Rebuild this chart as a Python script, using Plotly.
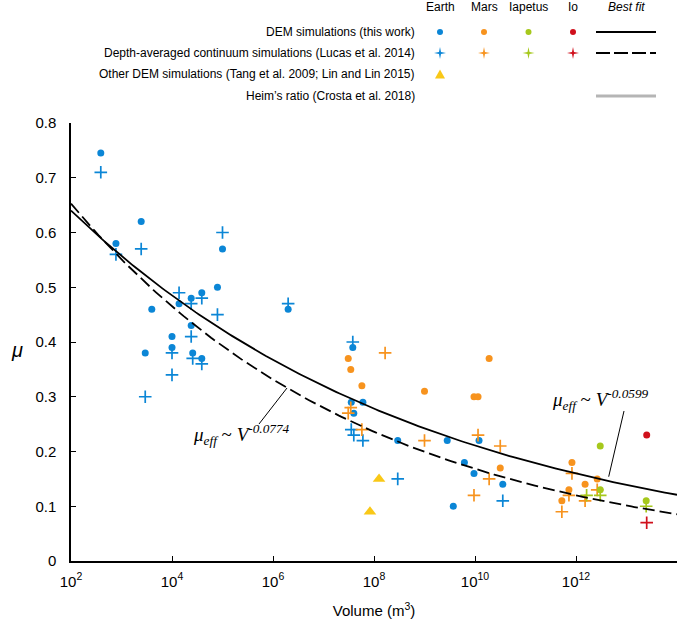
import numpy as np
import plotly.graph_objects as go

# volumes given as log10(V), friction coefficient mu
earth_dem_logv = [2.59, 2.89, 3.39, 3.60, 3.47, 4.0, 4.0, 4.14, 4.38, 4.38, 4.41, 4.59, 4.59, 4.90, 5.0, 6.30,
                  7.58, 7.55, 7.78, 7.60, 8.47, 9.45, 10.08, 9.79, 9.98, 10.55, 9.57]
earth_dem_mu = [0.745, 0.58, 0.62, 0.46, 0.38, 0.41, 0.39, 0.47, 0.48, 0.43, 0.38, 0.49, 0.37, 0.50, 0.57, 0.46,
                0.39, 0.29, 0.29, 0.27, 0.22, 0.22, 0.22, 0.18, 0.16, 0.14, 0.10]

earth_cont_logv = [2.59, 2.89, 3.39, 3.47, 4.0, 4.0, 4.14, 4.38, 4.38, 4.41, 4.59, 4.59, 4.90, 5.0, 6.30,
                   7.58, 7.55, 7.60, 7.78, 8.47, 10.55]
earth_cont_mu = [0.71, 0.56, 0.57, 0.30, 0.34, 0.38, 0.49, 0.47, 0.41, 0.37, 0.48, 0.36, 0.45, 0.60, 0.47,
                 0.40, 0.24, 0.23, 0.22, 0.15, 0.11]

mars_dem_logv = [7.49, 7.54, 7.76, 9.0, 9.98, 10.06, 10.28, 10.50, 11.92, 12.42, 12.18, 11.86, 11.72]
mars_dem_mu = [0.37, 0.35, 0.32, 0.31, 0.30, 0.30, 0.37, 0.17, 0.18, 0.15, 0.14, 0.13, 0.11]

mars_cont_logv = [8.22, 7.54, 7.49, 7.76, 9.0, 10.06, 10.50, 10.28, 9.98, 11.92, 12.42, 11.86, 12.18, 11.72]
mars_cont_mu = [0.38, 0.28, 0.27, 0.24, 0.22, 0.23, 0.21, 0.15, 0.12, 0.16, 0.13, 0.12, 0.11, 0.09]

iapetus_dem_logv = [12.48, 12.48, 13.39]
iapetus_dem_mu = [0.21, 0.13, 0.11]
iapetus_cont_logv = [12.21, 12.48, 13.39]
iapetus_cont_mu = [0.12, 0.12, 0.10]

io_dem_logv = [13.40]
io_dem_mu = [0.23]
io_cont_logv = [13.40]
io_cont_mu = [0.07]

other_dem_logv = [8.10, 7.92]
other_dem_mu = [0.15, 0.09]

# best fit curves mu = c * V^k (as drawn)
fit_dem = (0.845, -0.0603)
fit_cont = (0.916, -0.0736)
fit_logv = np.linspace(2, 14, 200)

colors = {'Earth': '#0b86d6', 'Mars': '#f7931e', 'Iapetus': '#a6c81c', 'Io': '#d0101c'}
tri_color = '#f9c817'

fig = go.Figure()

groups = [
    ('Earth', earth_dem_logv, earth_dem_mu, earth_cont_logv, earth_cont_mu),
    ('Mars', mars_dem_logv, mars_dem_mu, mars_cont_logv, mars_cont_mu),
    ('Iapetus', iapetus_dem_logv, iapetus_dem_mu, iapetus_cont_logv, iapetus_cont_mu),
    ('Io', io_dem_logv, io_dem_mu, io_cont_logv, io_cont_mu),
]

for name, dlv, dmu, clv, cmu in groups:
    fig.add_trace(go.Scatter(x=10 ** np.array(clv), y=cmu, mode='markers', name=name + ' continuum',
                             marker=dict(symbol='cross-thin', size=9, color=colors[name],
                                         line=dict(width=1.7, color=colors[name]))))
    fig.add_trace(go.Scatter(x=10 ** np.array(dlv), y=dmu, mode='markers', name=name + ' DEM',
                             marker=dict(symbol='circle', size=7, color=colors[name], line_width=0)))

fig.add_trace(go.Scatter(x=10 ** np.array(other_dem_logv), y=other_dem_mu, mode='markers', name='Other DEM',
                         marker=dict(symbol='triangle-up', size=11, color=tri_color, line_width=0)))

fig.add_trace(go.Scatter(x=10 ** fit_logv, y=fit_dem[0] * (10 ** fit_logv) ** fit_dem[1], mode='lines',
                         line=dict(color='black', width=1.8), name='fit DEM'))
fig.add_trace(go.Scatter(x=10 ** fit_logv, y=fit_cont[0] * (10 ** fit_logv) ** fit_cont[1], mode='lines',
                         line=dict(color='black', width=1.8, dash='12px,5px'), name='fit continuum'))

# plot area in pixels: x 71..677, y 123..561
def px(x):
    return (x - 71) / 606


def py(y):
    return (561 - y) / 438


shapes = []
annotations = []

# legend table
headers = [('Earth', 440), ('Mars', 484), ('Iapetus', 528.5), ('Io', 573)]
for h, hx in headers:
    annotations.append(dict(text=h, x=px(hx), y=py(7), xref='paper', yref='paper', showarrow=False,
                            xanchor='center', yanchor='middle', font=dict(size=12, color='black')))
annotations.append(dict(text='<i>Best fit</i>', x=px(626), y=py(7), xref='paper', yref='paper', showarrow=False,
                        xanchor='center', yanchor='middle', font=dict(size=12, color='black')))

rows = ['DEM simulations (this work)',
        'Depth-averaged continuum simulations (Lucas et al. 2014)',
        'Other DEM simulations (Tang et al. 2009; Lin and Lin 2015)',
        'Heim\u2019s ratio (Crosta et al. 2018)']
row_y = [32, 53, 74.5, 96]
for r, ry in zip(rows, row_y):
    annotations.append(dict(text=r, x=px(417), y=py(ry), xref='paper', yref='paper', showarrow=False,
                            xanchor='right', yanchor='middle', font=dict(size=12, color='black')))

star_path = 'M0,6 L1,1 L6,0 L1,-1 L0,-6 L-1,-1 L-6,0 L-1,1 Z'
for (name, hx) in headers:
    c = colors[name]
    shapes.append(dict(type='circle', xref='paper', yref='paper', xsizemode='pixel', ysizemode='pixel',
                       xanchor=px(hx), yanchor=py(row_y[0]), x0=-3, x1=3, y0=-3, y1=3,
                       fillcolor=c, line_width=0))
    shapes.append(dict(type='path', xref='paper', yref='paper', xsizemode='pixel', ysizemode='pixel',
                       xanchor=px(hx), yanchor=py(row_y[1]), path=star_path, fillcolor=c, line_width=0))
shapes.append(dict(type='path', xref='paper', yref='paper', xsizemode='pixel', ysizemode='pixel',
                   xanchor=px(440), yanchor=py(row_y[2]), path='M-5,-4 L5,-4 L0,5 Z',
                   fillcolor=tri_color, line_width=0))
shapes.append(dict(type='line', xref='paper', yref='paper', x0=px(596), x1=px(656), y0=py(row_y[0]), y1=py(row_y[0]),
                   line=dict(color='black', width=2)))
shapes.append(dict(type='line', xref='paper', yref='paper', x0=px(596), x1=px(656), y0=py(row_y[1]), y1=py(row_y[1]),
                   line=dict(color='black', width=2, dash='14px,4px')))
shapes.append(dict(type='line', xref='paper', yref='paper', x0=px(596), x1=px(656), y0=py(row_y[3]), y1=py(row_y[3]),
                   line=dict(color='#b5b5b5', width=3)))

# fit labels
serif = dict(family='Liberation Serif', size=19, color='black')
annotations.append(dict(text='<i>\u03bc</i><sub><i>eff</i></sub> ~ <i>V</i><sup><i>-0.0774</i></sup>',
                        x=px(191), y=py(434), xref='paper', yref='paper', showarrow=False,
                        xanchor='left', yanchor='middle', font=serif))
annotations.append(dict(text='<i>\u03bc</i><sub><i>eff</i></sub> ~ <i>V</i><sup><i>-0.0599</i></sup>',
                        x=px(550), y=py(399), xref='paper', yref='paper', showarrow=False,
                        xanchor='left', yanchor='middle', font=serif))
shapes.append(dict(type='line', xref='paper', yref='paper', x0=px(259), y0=py(424), x1=px(287), y1=py(388),
                   line=dict(color='black', width=1)))
shapes.append(dict(type='line', xref='paper', yref='paper', x0=px(624), y0=py(411), x1=px(608.7), y1=py(476.7),
                   line=dict(color='black', width=1)))

# y axis title
annotations.append(dict(text='<i>\u03bc</i>', x=px(17), y=py(350), xref='paper', yref='paper', showarrow=False,
                        xanchor='center', yanchor='middle', font=dict(family='Liberation Sans', size=20, color='black')))

tick_exps = [2, 4, 6, 8, 10, 12, 14]
fig.update_xaxes(type='log', range=[2, 14], tickvals=[10 ** e for e in tick_exps],
                 ticktext=['10<sup>%d</sup>' % e for e in tick_exps],
                 ticks='inside', ticklen=5, tickcolor='black', showline=True, linecolor='black', linewidth=1.5,
                 showgrid=False, zeroline=False, tickfont=dict(size=15, color='black'), ticklabelstandoff=6,
                 title=dict(text='Volume (m<sup>3</sup>)', font=dict(size=15, color='black'), standoff=17))
fig.update_yaxes(range=[0, 0.8], tickvals=[0, 0.1, 0.2, 0.3, 0.4, 0.5, 0.6, 0.7, 0.8],
                 ticktext=['0', '0.1', '0.2', '0.3', '0.4', '0.5', '0.6', '0.7', '0.8'],
                 ticks='inside', ticklen=5, tickcolor='black', showline=True, linecolor='black', linewidth=1.5,
                 showgrid=False, zeroline=False, tickfont=dict(size=15, color='black'), ticklabelstandoff=10)

fig.update_layout(width=685, height=625, margin=dict(l=71, r=8, t=123, b=64),
                  plot_bgcolor='white', paper_bgcolor='white', showlegend=False,
                  font=dict(family='Liberation Sans'), shapes=shapes, annotations=annotations)

# drop the default page margin so the figure sits at the window's corner
fig.write_html("out.html", config={'displayModeBar': False},
               post_script="document.body.style.margin='0';")
